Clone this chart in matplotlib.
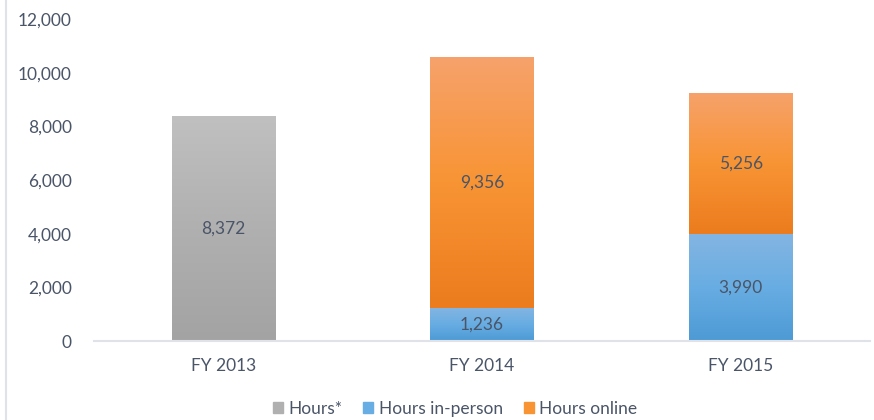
import matplotlib
matplotlib.use("Agg")
import matplotlib.pyplot as plt
import matplotlib.patches as mpatches
from matplotlib.colors import LinearSegmentedColormap
import numpy as np

# ── data ──────────────────────────────────────────────────────────────────────
years      = ["FY 2013", "FY 2014", "FY 2015"]
hours      = [8372, 0, 0]          # Hours*
in_person  = [0, 1236, 3990]       # Hours in-person
online     = [0, 9356, 5256]       # Hours online
y_ticks    = [0, 2000, 4000, 6000, 8000, 10000, 12000]

TEXT   = "#4a5568"
GRID   = "#dfe2e8"
plt.rcParams["font.family"] = ["Lato", "DejaVu Sans"]

# gradient stops, bottom -> top
GRAY   = ["#a3a3a3", "#b0b0b0", "#c0c0c0"]
BLUE   = ["#4d9ad5", "#68ade3", "#84b5e2"]
ORANGE = ["#ec7c1e", "#f89434", "#f6a26c"]

fig = plt.figure(figsize=(8.74, 4.2), dpi=100)
ax = fig.add_axes([94 / 874, 79 / 420, 776 / 874, 322 / 420])

x = np.arange(len(years))
width = 0.40


def grad_bars(xs, heights, bottoms, colours):
    bars = ax.bar(xs, heights, width, bottom=bottoms, color="none",
                  edgecolor="none", zorder=2)
    cmap = LinearSegmentedColormap.from_list("g", colours)
    grad = np.linspace(0, 1, 256).reshape(-1, 1)
    for b in bars:
        if b.get_height() <= 0:
            continue
        x0, y0 = b.get_x(), b.get_y()
        im = ax.imshow(grad, cmap=cmap, aspect="auto", origin="lower",
                       extent=[x0, x0 + b.get_width(), y0, y0 + b.get_height()],
                       zorder=2)
        im.set_clip_path(b)
    return bars


b1 = grad_bars(x, hours, 0, GRAY)
b2 = grad_bars(x, in_person, 0, BLUE)
b3 = grad_bars(x, online, in_person, ORANGE)

# value labels in the middle of each segment
for vals, bots in ((hours, [0] * 3), (in_person, [0] * 3), (online, in_person)):
    for xi, v, b in zip(x, vals, bots):
        if v > 0:
            ax.text(xi, b + v / 2, f"{v:,}", ha="center", va="center",
                    color=TEXT, fontsize=12.5, zorder=3)

ax.set_xlim(-0.5, 2.5)
ax.set_ylim(0, 12000)
ax.set_yticks(y_ticks)
ax.set_yticklabels([f"{t:,}" for t in y_ticks])
ax.set_xticks(x)
ax.set_xticklabels(years)
ax.tick_params(length=0, colors=TEXT, labelsize=12.5)
ax.tick_params(axis="y", pad=16)
ax.tick_params(axis="x", pad=12)
for s in ("top", "right", "left"):
    ax.spines[s].set_visible(False)
ax.spines["bottom"].set_color(GRID)
ax.spines["bottom"].set_linewidth(1.5)

# chart frame edge on the left
fig.add_artist(plt.Line2D([6 / 874, 6 / 874], [0, 1], color=GRID, lw=1.5))

handles = [
    mpatches.Patch(color=GRAY[1], label="Hours*"),
    mpatches.Patch(color=BLUE[1], label="Hours in-person"),
    mpatches.Patch(color=ORANGE[1], label="Hours online"),
]
fig.legend(handles=handles, loc="center", bbox_to_anchor=(455 / 874, 11 / 420),
           ncol=3, frameon=False, fontsize=12.5, labelcolor=TEXT,
           handlelength=0.6, handleheight=0.6, handletextpad=0.3,
           columnspacing=1.2)

fig.savefig("out.png", dpi=100, facecolor="white")
